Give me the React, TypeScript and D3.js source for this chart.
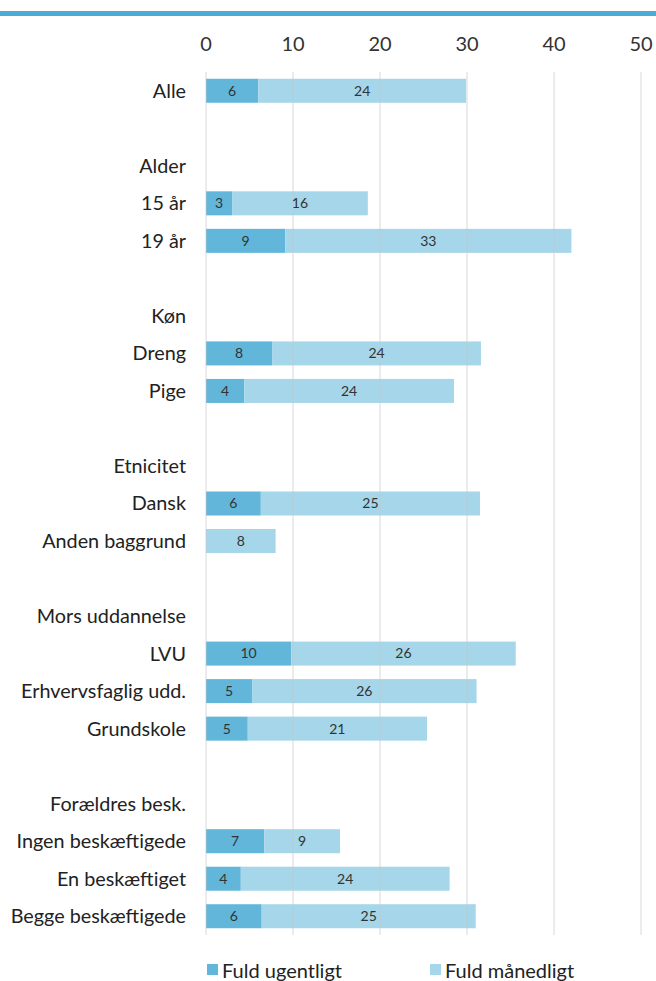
import React from "react";
import * as d3 from "d3";

const categories = [
  "Alle", "", "Alder", "15 år", "19 år", "", "Køn", "Dreng", "Pige", "",
  "Etnicitet", "Dansk", "Anden baggrund", "", "Mors uddannelse", "LVU",
  "Erhvervsfaglig udd.", "Grundskole", "", "Forældres besk.",
  "Ingen beskæftigede", "En beskæftiget", "Begge beskæftigede",
];
const weekly: (number | null)[] = [
  6.0, null, null, 3.0, 9.1, null, null, 7.6, 4.4, null,
  null, 6.3, 0, null, null, 9.8, 5.3, 4.8, null, null, 6.7, 4.0, 6.4,
];
const monthly: (number | null)[] = [
  23.9, null, null, 15.6, 32.9, null, null, 24.0, 24.1, null,
  null, 25.2, 8.0, null, null, 25.8, 25.8, 20.6, null, null, 8.7, 24.0, 24.6,
];
const ticks = [0, 10, 20, 30, 40, 50];
const seriesNames = ["Fuld ugentligt", "Fuld månedligt"];
const colors = ["#62b6da", "#a5d6e9"];

export default function App() {
  const W = 656, H = 981;
  const font = "Lato, 'Open Sans', sans-serif";
  const x = d3.scaleLinear().domain([0, 50]).range([206, 641]);
  const y = d3
    .scaleBand<number>()
    .domain(categories.map((_, i) => i))
    .range([72, 935])
    .paddingInner(0.36)
    .paddingOuter(0.18);
  const bh = y.bandwidth();
  return (
    <svg width={W} height={H} style={{ position: "absolute", left: 0, top: 0, background: "#fff" }}>
      <rect x={0} y={11} width={W} height={5} fill="#4bacd6" />
      {ticks.map((t) => (
        <text key={t} x={x(t)} y={51} textAnchor="middle" fontSize={20} fontFamily={font} fill="#333">
          {t}
        </text>
      ))}
      {categories.map((c, i) => (
        <text key={"c" + i} x={186} y={(y(i) as number) + bh / 2} dy="0.35em" textAnchor="end" fontSize={19.8} fontFamily={font} fill="#222">
          {c}
        </text>
      ))}
      {categories.map((_, i) => {
        const w = weekly[i];
        const m = monthly[i];
        if (w == null || m == null) return null;
        const y0 = y(i) as number;
        return (
          <g key={"b" + i}>
            {w > 0 && <rect x={x(0)} y={y0} width={x(w) - x(0)} height={bh} fill={colors[0]} />}
            <rect x={x(w)} y={y0} width={x(w + m) - x(w)} height={bh} fill={colors[1]} />
          </g>
        );
      })}
      {ticks.map((t) => (
        <line key={"g" + t} x1={x(t)} x2={x(t)} y1={72} y2={935} stroke="#c8c8c8" strokeOpacity={0.7} strokeWidth={1} />
      ))}
      {categories.map((_, i) => {
        const w = weekly[i];
        const m = monthly[i];
        if (w == null || m == null) return null;
        const yc = (y(i) as number) + bh / 2;
        return (
          <g key={"l" + i} fontSize={14} fontFamily={font} fill="#333" textAnchor="middle">
            {w > 0 && (
              <text x={(x(0) + x(w)) / 2} y={yc} dy="0.35em">
                {Math.round(w)}
              </text>
            )}
            <text x={(x(w) + x(w + m)) / 2} y={yc} dy="0.35em">
              {Math.round(m)}
            </text>
          </g>
        );
      })}
      {seriesNames.map((s, i) => {
        const lx = i === 0 ? 207 : 430;
        return (
          <g key={s}>
            <rect x={lx} y={964} width={11} height={11} fill={colors[i]} />
            <text x={lx + 15} y={978} fontSize={20} fontFamily={font} fill="#222">
              {s}
            </text>
          </g>
        );
      })}
    </svg>
  );
}
